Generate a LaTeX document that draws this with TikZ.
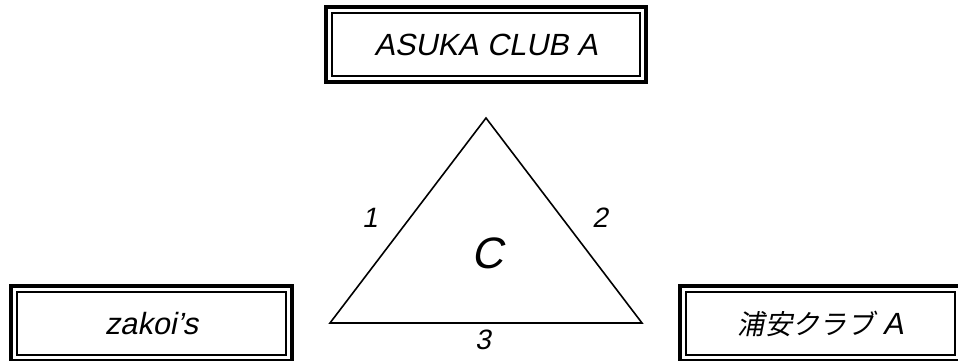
\documentclass[tikz,border=0pt]{standalone}
\usepackage{fontspec}
\setmainfont{Liberation Sans}[FakeSlant=0.2]
\newfontfamily\jpfont{Noto Sans CJK JP}[FakeSlant=0.2]
\usetikzlibrary{calc}

\begin{document}
\begin{tikzpicture}[x=0.75pt,y=-0.75pt,
    clubbox/.style={draw,line width=1.5pt,inner sep=0pt,minimum height=47.25pt,
                    font=\fontsize{23}{27}\selectfont},
    edgelabel/.style={font=\fontsize{21}{25}\selectfont}]
  \useasboundingbox (0,0) rectangle (958,361);
  \clip (0,0) rectangle (958,361);
  % the three clubs
  \node[clubbox,minimum width=231pt] (asuka) at (486,44.5) {ASUKA CLUB A};
  \node[clubbox,minimum width=201.75pt] (zakoi) at (151.5,323.5) {zakoi’s};
  \node[clubbox,minimum width=201.75pt] (urayasu) at (820.5,323.5) {{\jpfont\fontsize{20.5}{24}\selectfont 浦安クラブ} A};
  \foreach \n in {asuka,zakoi,urayasu}
    \draw[line width=3pt] ($(\n.south west)+(-3.75pt,-3.75pt)$) rectangle ($(\n.north east)+(3.75pt,3.75pt)$);
  % the triangle
  \coordinate (top) at (486,118);
  \coordinate (left) at (330,323);
  \coordinate (right) at (642,323);
  \draw[line width=1.2pt,line join=miter] (top) -- (left) -- (right) -- cycle;
  \node[edgelabel] (e1) at (370,218) {1};
  \node[edgelabel] (e2) at (600,218) {2};
  \node[edgelabel] (e3) at (483,340) {3};
  \node[font=\fontsize{33}{38}\selectfont] (grp) at (487,253) {C};
\end{tikzpicture}
\end{document}
